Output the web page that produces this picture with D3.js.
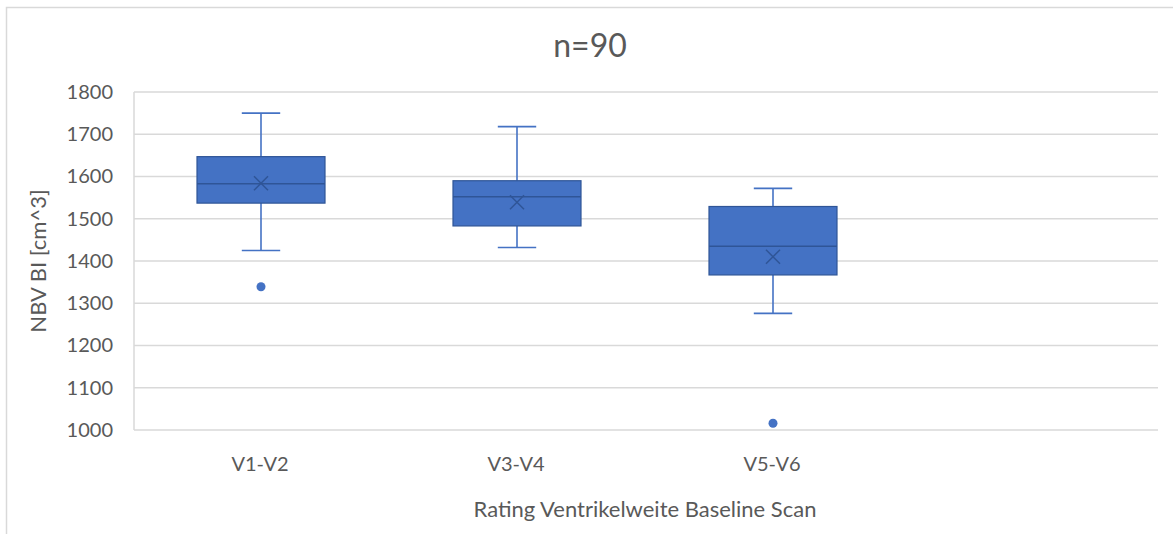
<!DOCTYPE html>
<html>
<head>
<meta charset="utf-8">
<script src="https://cdn.jsdelivr.net/npm/d3@7"></script>
<style>
  body { margin: 0; background: #fff; }
  text { font-family: Lato, "Open Sans", sans-serif; fill: #595959; }
</style>
</head>
<body>
<div id="chart"></div>
<script>
// values
var categories = ['V1-V2', 'V3-V4', 'V5-V6'];
var whiskerHigh = [1750, 1718, 1572];
var q3 = [1647, 1590, 1529];
var median = [1583, 1552, 1435];
var mean = [1584, 1539, 1410];
var q1 = [1537, 1483, 1367];
var whiskerLow = [1425, 1432, 1276];
var outliers = [[1339], [], [1016]];
var yTicks = [1000, 1100, 1200, 1300, 1400, 1500, 1600, 1700, 1800];

var width = 1173, height = 534;
var plot = { left: 134, right: 1158, top: 92, bottom: 430 };
var blue = '#4472c4', dark = '#2f5597';

var svg = d3.select('#chart').append('svg')
  .attr('width', width)
  .attr('height', height);

// chart frame
svg.append('path')
  .attr('d', 'M6.5,' + height + 'V7.5H' + width)
  .attr('fill', 'none')
  .attr('stroke', '#d9d9d9')
  .attr('stroke-width', 1.5);

// 4 slots, the last one stays empty like in the original
var x = d3.scaleBand()
  .domain(categories.concat(['_empty']))
  .range([plot.left, plot.right]);
var y = d3.scaleLinear()
  .domain([1000, 1800])
  .range([plot.bottom, plot.top]);

// grid
svg.append('g')
  .selectAll('line')
  .data(yTicks)
  .enter()
  .append('line')
  .attr('x1', plot.left)
  .attr('x2', plot.right)
  .attr('y1', d => y(d))
  .attr('y2', d => y(d))
  .attr('stroke', '#d9d9d9')
  .attr('stroke-width', 1.5);
svg.append('line')
  .attr('x1', plot.left).attr('x2', plot.left)
  .attr('y1', y(1800)).attr('y2', y(1000))
  .attr('stroke', '#d9d9d9')
  .attr('stroke-width', 1.5);

// axes (text only)
var yAxis = svg.append('g')
  .attr('transform', 'translate(' + plot.left + ',0)')
  .call(d3.axisLeft(y).tickValues(yTicks).tickSize(0).tickPadding(21).tickFormat(d3.format('d')));
var xAxis = svg.append('g')
  .attr('transform', 'translate(-2,' + plot.bottom + ')')
  .call(d3.axisBottom(x).tickValues(categories).tickSize(0).tickPadding(27));
[yAxis, xAxis].forEach(function(a) {
  a.select('.domain').remove();
  a.selectAll('text')
    .attr('fill', '#595959')
    .style('font-family', 'Lato, sans-serif')
    .style('font-size', '20px');
});

// boxes
var bw = x.bandwidth() * 0.5;
var cap = x.bandwidth() * 0.15;
var boxes = svg.append('g')
  .selectAll('g')
  .data(categories)
  .enter()
  .append('g')
  .attr('transform', d => 'translate(' + (x(d) + x.bandwidth() / 2 - 1) + ',0)');

boxes.each(function(d, i) {
  var g = d3.select(this);
  // whiskers
  [[whiskerHigh[i], q3[i]], [whiskerLow[i], q1[i]]].forEach(function(w) {
    g.append('line')
      .attr('x1', 0).attr('x2', 0)
      .attr('y1', y(w[0])).attr('y2', y(w[1]))
      .attr('stroke', blue).attr('stroke-width', 1.6);
    g.append('line')
      .attr('x1', -cap / 2).attr('x2', cap / 2)
      .attr('y1', y(w[0])).attr('y2', y(w[0]))
      .attr('stroke', blue).attr('stroke-width', 1.6);
  });
  g.append('rect')
    .attr('x', -bw / 2)
    .attr('y', y(q3[i]))
    .attr('width', bw)
    .attr('height', y(q1[i]) - y(q3[i]))
    .attr('fill', blue)
    .attr('stroke', dark)
    .attr('stroke-width', 1.2);
  g.append('line')
    .attr('x1', -bw / 2).attr('x2', bw / 2)
    .attr('y1', y(median[i])).attr('y2', y(median[i]))
    .attr('stroke', dark).attr('stroke-width', 1.5);
  // mean marker
  var m = 7, my = y(mean[i]);
  g.append('path')
    .attr('d', 'M' + -m + ',' + (my - m) + 'L' + m + ',' + (my + m) +
      'M' + m + ',' + (my - m) + 'L' + -m + ',' + (my + m))
    .attr('stroke', dark).attr('stroke-width', 1.5);
  g.selectAll('circle')
    .data(outliers[i])
    .enter()
    .append('circle')
    .attr('cx', 0)
    .attr('cy', v => y(v))
    .attr('r', 4.5)
    .attr('fill', blue);
});

// titles
svg.append('text')
  .attr('x', 590).attr('y', 57)
  .attr('text-anchor', 'middle')
  .style('font-size', '32px')
  .text('n=90');
svg.append('text')
  .attr('x', 645).attr('y', 517)
  .attr('text-anchor', 'middle')
  .style('font-size', '22px')
  .text('Rating Ventrikelweite Baseline Scan');
svg.append('text')
  .attr('transform', 'translate(46,' + 261 + ') rotate(-90)')
  .attr('text-anchor', 'middle')
  .style('font-size', '22px')
  .text('NBV BI [cm^3]');
</script>
</body>
</html>
